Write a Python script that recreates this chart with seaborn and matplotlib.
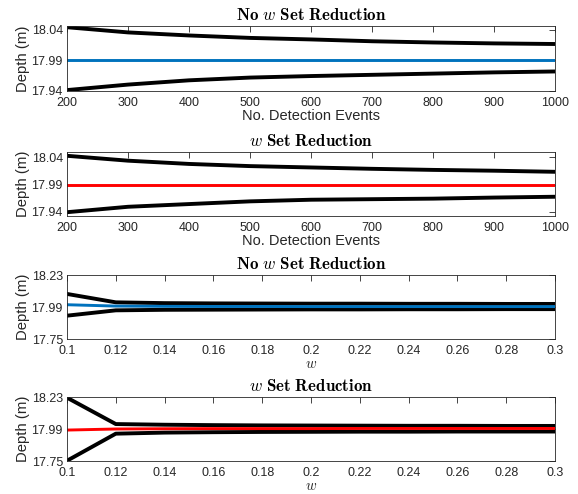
import matplotlib
matplotlib.use("Agg")
import matplotlib.pyplot as plt
import seaborn as sns

# Detection-event sweep
events = [200, 300, 400, 500, 600, 700, 800, 900, 1000]
event_ticklabels = ["200", "300", "400", "500", "600", "700", "800", "900", "1000"]

nored_upper = [18.044, 18.0355, 18.0305, 18.0265, 18.024, 18.021, 18.019, 18.0175, 18.0165]
nored_lower = [17.941, 17.950, 17.957, 17.9615, 17.964, 17.966, 17.968, 17.970, 17.9715]
nored_mean = [17.991, 17.991, 17.991, 17.991, 17.991, 17.991, 17.991, 17.991, 17.991]

red_upper = [18.043, 18.034, 18.028, 18.024, 18.0215, 18.019, 18.017, 18.0155, 18.0135]
red_lower = [17.939, 17.949, 17.954, 17.959, 17.962, 17.963, 17.964, 17.966, 17.9675]
red_mean = [17.99, 17.99, 17.99, 17.99, 17.99, 17.99, 17.99, 17.99, 17.99]

# w sweep
w_vals = [0.10, 0.12, 0.14, 0.16, 0.18, 0.20, 0.22, 0.24, 0.26, 0.28, 0.30]
w_ticklabels = ["0.1", "0.12", "0.14", "0.16", "0.18", "0.2", "0.22", "0.24", "0.26", "0.28", "0.3"]

w_nored_upper = [18.088, 18.025, 18.019, 18.017, 18.016, 18.015, 18.015, 18.014, 18.014, 18.013, 18.013]
w_nored_lower = [17.925, 17.965, 17.969, 17.970, 17.971, 17.972, 17.972, 17.973, 17.973, 17.974, 17.974]
w_nored_mean = [18.007, 17.997, 17.995, 17.994, 17.994, 17.993, 17.993, 17.993, 17.993, 17.993, 17.993]

w_red_upper = [18.225, 18.027, 18.022, 18.019, 18.017, 18.016, 18.015, 18.014, 18.014, 18.013, 18.013]
w_red_lower = [17.752, 17.955, 17.963, 17.966, 17.968, 17.969, 17.970, 17.970, 17.971, 17.971, 17.971]
w_red_mean = [17.982, 17.990, 17.992, 17.993, 17.993, 17.993, 17.994, 17.994, 17.994, 17.994, 17.994]

sns.set_theme(style="white")
plt.rcParams["font.family"] = ["Liberation Sans", "DejaVu Sans"]
plt.rcParams["mathtext.fontset"] = "cm"

BLUE = "#0072BD"
RED = "#FF0000"
AXC = "#262626"

fig = plt.figure(figsize=(5.78, 4.94), dpi=100)
W, H = 578.0, 494.0
left, right = 67, 555


def make_ax(top, bottom):
    return fig.add_axes([left / W, 1 - bottom / H, (right - left) / W, (bottom - top) / H])


panels = [
    dict(box=(26, 91), x=events, up=nored_upper, lo=nored_lower, mid=nored_mean, c=BLUE,
         title=r"$\mathbf{No}\ w\ \mathbf{Set\ Reduction}$", xlabel="No. Detection Events",
         xlim=(200, 1000), xt=events, xtl=event_ticklabels,
         ylim=(17.9395, 18.046), yt=[17.94, 17.99, 18.04], ytl=["17.94", "17.99", "18.04"]),
    dict(box=(152, 216), x=events, up=red_upper, lo=red_lower, mid=red_mean, c=RED,
         title=r"$w\ \mathbf{Set\ Reduction}$", xlabel="No. Detection Events",
         xlim=(200, 1000), xt=events, xtl=event_ticklabels,
         ylim=(17.932, 18.050), yt=[17.94, 17.99, 18.04], ytl=["17.94", "17.99", "18.04"]),
    dict(box=(275, 339), x=w_vals, up=w_nored_upper, lo=w_nored_lower, mid=w_nored_mean, c=BLUE,
         title=r"$\mathbf{No}\ w\ \mathbf{Set\ Reduction}$", xlabel=r"$w$",
         xlim=(0.1, 0.3), xt=w_vals, xtl=w_ticklabels,
         ylim=(17.75, 18.23), yt=[17.75, 17.99, 18.23], ytl=["17.75", "17.99", "18.23"]),
    dict(box=(397, 461), x=w_vals, up=w_red_upper, lo=w_red_lower, mid=w_red_mean, c=RED,
         title=r"$w\ \mathbf{Set\ Reduction}$", xlabel=r"$w$",
         xlim=(0.1, 0.3), xt=w_vals, xtl=w_ticklabels,
         ylim=(17.75, 18.23), yt=[17.75, 17.99, 18.23], ytl=["17.75", "17.99", "18.23"]),
]

for p in panels:
    ax = make_ax(*p["box"])
    sns.lineplot(x=p["x"], y=p["up"], ax=ax, color="black", lw=2.8)
    sns.lineplot(x=p["x"], y=p["lo"], ax=ax, color="black", lw=2.8)
    sns.lineplot(x=p["x"], y=p["mid"], ax=ax, color=p["c"], lw=2.1)
    ax.set_xlim(*p["xlim"])
    ax.set_ylim(*p["ylim"])
    ax.set_xticks(p["xt"])
    ax.set_xticklabels(p["xtl"])
    ax.set_yticks(p["yt"])
    ax.set_yticklabels(p["ytl"])
    ax.tick_params(direction="in", top=True, right=True, length=4, width=0.6,
                   colors=AXC, labelsize=9)
    ax.tick_params(axis="x", pad=4)
    ax.tick_params(axis="y", pad=3)
    for s in ax.spines.values():
        s.set_color(AXC)
        s.set_linewidth(0.6)
    ax.set_title(p["title"], fontsize=12.2, color="black", pad=4)
    ax.set_xlabel(p["xlabel"], fontsize=10.5, color=AXC, labelpad=0)
    ax.set_ylabel("Depth (m)", fontsize=10.7, color=AXC, labelpad=1)

fig.savefig("out.png", dpi=100)
